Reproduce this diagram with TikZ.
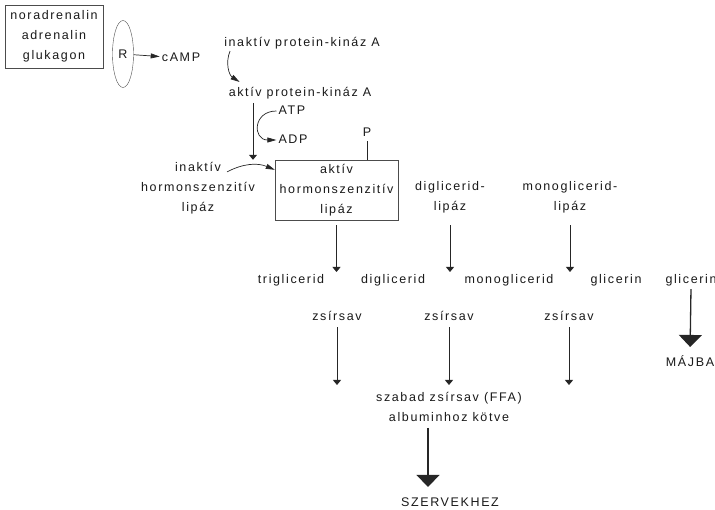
\documentclass[tikz,border=0pt]{standalone}
\usepackage{fontspec}
\setmainfont{Liberation Sans}[LetterSpace=13]
\usetikzlibrary{arrows.meta,shapes.geometric}

\begin{document}
\begin{tikzpicture}[x=1pt,y=-1pt,
        every node/.style={font=\fontsize{12.5}{20}\selectfont,text=black!90,align=center,inner sep=2pt},
        lbl/.style={text height=9pt,text depth=2.7pt},
        arr/.style={draw=black!85,line width=0.9pt,-{Triangle[width=8pt,length=5pt]}},
        bent/.style={draw=black!85,line width=0.7pt,-{Triangle[width=5pt,length=9pt]}},
        big/.style={draw=black!85,line width=1.3pt,-{Triangle[width=23pt,length=12pt]}}]
    \useasboundingbox (0,0) rectangle (715,510);
    % hormones and receptor
    \node [draw=black!70,minimum width=98,minimum height=63] (horm) at (54,36.5) {noradrenalin\\adrenalin\\glukagon};
    \node [draw=black!70,ellipse,minimum width=21,minimum height=67,inner sep=0] (rec) at (123,54) {R};
    \node [lbl] (camp) at (181,58) {cAMP};
    \draw [bent] (rec) -- (camp);
    % protein kinase A
    \node [lbl] (pka0) at (302,43) {inaktív protein-kináz A};
    \node [lbl] (pka1) at (300,93) {aktív protein-kináz A};
    \draw [bent] ([xshift=8]pka0.south west) to [bend right=40] ([xshift=13,yshift=3]pka1.north west);
    \node [lbl] (atp) at (292,111) {ATP};
    \node [lbl] (adp) at (293,140) {ADP};
    \draw [bent] (atp.west) to [out=180,in=180,looseness=2.1] (adp.west);
    % hormone-sensitive lipase
    \node [draw=black!70,minimum width=123,minimum height=60] (lipA) at (336.5,190) {aktív\\hormonszenzitív\\lipáz};
    \node (lip0) at (198,188) {inaktív\\hormonszenzitív\\lipáz};
    \node [lbl] (P) at (367,133) {P};
    \draw [draw=black!85,line width=0.7pt] (P) -- (P |- lipA.north); % phosphate
    \coordinate (stem) at (253,103);
    \draw [arr] (stem) -- (stem |- lipA.north);
    \draw [bent] ([xshift=29,yshift=-12]lip0.north) to [bend left=25] ([yshift=-10]lipA.north west);
    \node (dgl) at (450,197) {diglicerid-\\lipáz};
    \node (mgl) at (570,197) {monoglicerid-\\lipáz};
    % glycerides
    \foreach \x/\n/\t in {291/tg/triglicerid,393/dg/diglicerid,509/mg/monoglicerid,616/gl/glicerin,691/gl2/glicerin}
        \node [lbl] (\n) at (\x,280) {\t};
    \foreach \e/\s [count=\i] in {lipA/5,dgl/10,mgl/10} {
        \coordinate (h\i) at (\e.south |- 0,272);
        \draw [arr,shorten <=\s] (\e.south) -- (h\i); % lipase steps
    }
    % fatty acids
    \foreach \x [count=\i] in {337,449,569} {
        \node [lbl] (z\i) at (\x,317) {zsírsav};
        \coordinate (f\i) at (\x,385);
        \draw [arr,shorten <=2] (z\i.south) -- (f\i);
    }
    \node (ffa) at (449,407) {szabad zsírsav (FFA)\\albuminhoz kötve};
    \node [lbl] (szerv) at (450,503) {SZERVEKHEZ};
    \coordinate (ffa-out) at (428,428);
    \draw [big,shorten >=8] (ffa-out) -- (ffa-out |- szerv.north);
    \node [lbl] (majba) at (690,363) {MÁJBA};
    \draw [big,shorten <=1,shorten >=8] (gl2.south) -- (majba.north);
\end{tikzpicture}
\end{document}
